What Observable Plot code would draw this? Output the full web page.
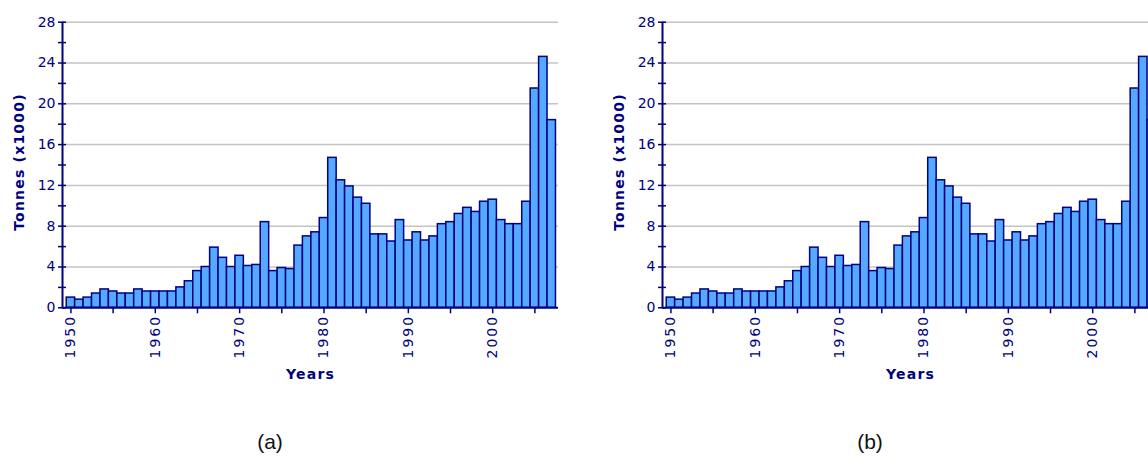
<!DOCTYPE html>
<html><head><meta charset="utf-8">
<script src="https://cdn.jsdelivr.net/npm/d3@7"></script>
<script src="https://cdn.jsdelivr.net/npm/@observablehq/plot@0.6"></script>
<style>
html,body{margin:0;padding:0;background:#fff;width:1148px;height:456px;overflow:hidden;}
.panel{position:absolute;top:0;width:580px;height:456px;}
.cap{position:absolute;top:431px;left:0;width:540px;text-align:center;font-family:"Liberation Sans",Arial,sans-serif;font-size:21px;line-height:21px;color:#111;}
</style></head><body>
<div id="a" class="panel" style="left:0"></div>
<div id="b" class="panel" style="left:600px"></div>
<script>
const years = [1950,1951,1952,1953,1954,1955,1956,1957,1958,1959,
  1960,1961,1962,1963,1964,1965,1966,1967,1968,1969,
  1970,1971,1972,1973,1974,1975,1976,1977,1978,1979,
  1980,1981,1982,1983,1984,1985,1986,1987,1988,1989,
  1990,1991,1992,1993,1994,1995,1996,1997,1998,1999,
  2000,2001,2002,2003,2004,2005,2006,2007];
const tonnes = [1.0,0.8,1.0,1.4,1.8,1.6,1.4,1.4,1.8,1.6,
  1.6,1.6,1.6,2.0,2.6,3.6,4.0,5.9,4.9,4.0,
  5.1,4.1,4.2,8.4,3.6,3.9,3.8,6.1,7.0,7.4,
  8.8,14.7,12.5,11.9,10.8,10.2,7.2,7.2,6.5,8.6,
  6.6,7.4,6.6,7.0,8.2,8.4,9.2,9.8,9.4,10.4,
  10.6,8.6,8.2,8.2,10.4,21.5,24.6,18.4];
const yTicks = [0,4,8,12,16,20,24,28];
const yMinor = [2,6,10,14,18,22,26];
const xTicks = [1950,1960,1970,1980,1990,2000];
const xMinor = [1955,1965,1975,1985,1995,2005];
const xDomain = [1949, 2007.8];
const yDomain = [0, 28];
const yLabel = "Tonnes (x1000)";
const xLabel = "Years";
const captions = ["(a)", "(b)"];

const navy = "#000080";

function chart() {
  const data = years.map((year, i) => ({year, value: tonnes[i]}));
  const p = Plot.plot({
    width: 580, height: 400,
    marginLeft: 62, marginRight: 22, marginTop: 21.7, marginBottom: 92.7,
    style: {fontFamily: "'DejaVu Sans', Verdana, sans-serif", background: "white", color: navy},
    x: {domain: xDomain},
    y: {domain: yDomain},
    marks: [
      Plot.gridY(yTicks.slice(1), {stroke: "#c4c4c4", strokeOpacity: 1, strokeWidth: 1.5}),
      Plot.rectY(data, {x1: d => d.year - 0.5, x2: d => d.year + 0.5, y: "value", fill: "#55aaff", stroke: navy, strokeWidth: 1.5, inset: 0}),
      Plot.ruleY([yDomain[0]], {stroke: navy, strokeWidth: 2}),
      Plot.ruleX([xDomain[0]], {stroke: navy, strokeWidth: 2}),
      Plot.axisY({ticks: yTicks.concat(yMinor), tickSize: 8, dx: 4, text: null, label: null, stroke: navy, strokeWidth: 1.5}),
      Plot.axisY({ticks: yTicks, tickSize: 0, tickPadding: 7, fontSize: 14, fill: navy, label: null}),
      Plot.axisX({ticks: xTicks.concat(xMinor), tickSize: 6, text: null, label: null, stroke: navy, strokeWidth: 1.5}),
      Plot.axisX({ticks: xTicks, tickSize: 0, tickPadding: 7, tickRotate: -90, tickFormat: d => String(d), fontSize: 14, fill: navy, label: null}),
      Plot.text([yLabel], {text: d => d, frameAnchor: "left", textAnchor: "middle", lineAnchor: "middle", dx: -43, dy: -3, rotate: -90, fontWeight: "bold", fontSize: 14, fill: navy}),
      Plot.text([xLabel], {text: d => d, frameAnchor: "bottom", lineAnchor: "middle", dy: 67, fontWeight: "bold", fontSize: 14, fill: navy})
    ]
  });
  p.querySelectorAll('[aria-label="x-axis tick label"]').forEach(g => g.setAttribute("letter-spacing", "2"));
  p.querySelectorAll('[aria-label="text"]').forEach(g => g.setAttribute("letter-spacing", "1.2"));
  return p;
}

["a", "b"].forEach((id, i) => {
  const el = document.getElementById(id);
  el.appendChild(chart());
  const cap = document.createElement("div");
  cap.className = "cap";
  cap.textContent = captions[i];
  el.appendChild(cap);
});
</script>
</body></html>
